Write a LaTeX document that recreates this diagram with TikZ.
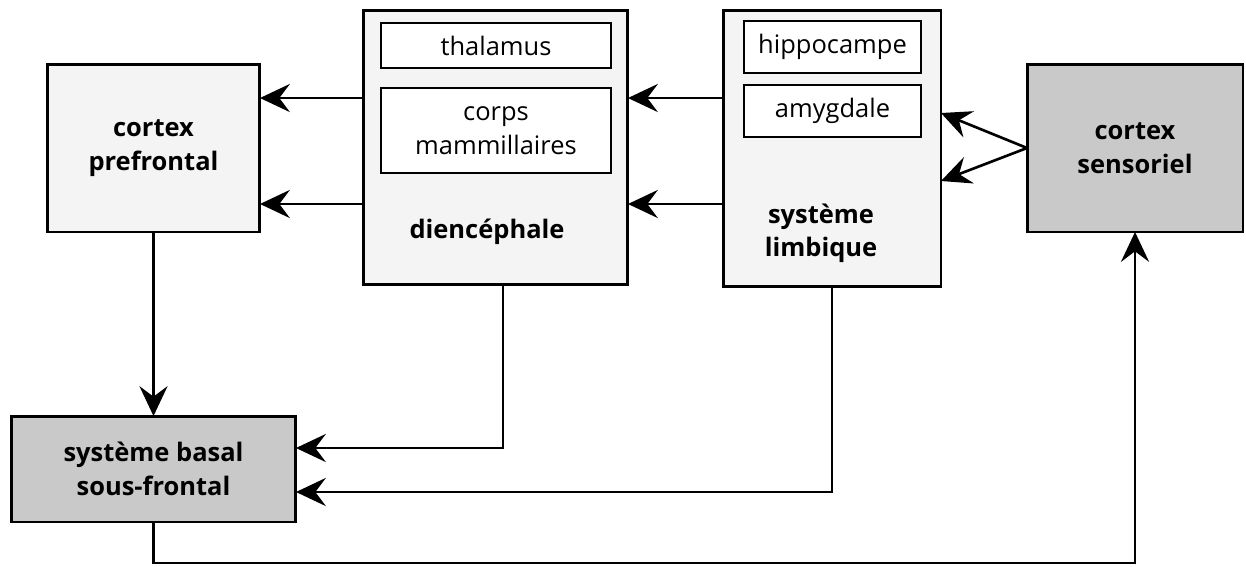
\documentclass[tikz,border=0pt]{standalone}
\usepackage{fontspec}
\setmainfont{Open Sans}
\usetikzlibrary{arrows.meta,positioning}

\begin{document}
\begin{tikzpicture}[
    x=0.02cm, y=-0.02cm,
    >={Stealth[length=17pt,width=16pt,inset=6pt]},
    font=\fontsize{14.5}{19}\selectfont,
    every node/.style={inner sep=0pt, outer sep=0pt},
    box/.style={draw, line width=1.7pt, align=center},
    lightbox/.style={box, fill=gray!9},
    darkbox/.style={box, fill=gray!42, font=\fontsize{14.5}{19}\selectfont\bfseries},
    innerbox/.style={box, fill=white, line width=1.5pt},
    arr/.style={->, line width=1.5pt}
]
\useasboundingbox (0,0) rectangle (1246,566);

% Left column
\node[lightbox, minimum width=4.26cm, minimum height=3.36cm,
      font=\fontsize{14.5}{19}\selectfont\bfseries] (pref) at (153.5,148) {cortex\\prefrontal};
\node[darkbox, minimum width=5.7cm, minimum height=2.12cm] (basal) at (153.5,469) {système basal\\sous-frontal};

% Diencephale
\node[lightbox, minimum width=5.3cm, minimum height=5.5cm] (dien) at (495.5,147.5) {};
\node[innerbox, minimum width=4.6cm, minimum height=0.9cm] (thal) at (496,45.5) {thalamus};
\node[innerbox, minimum width=4.6cm, minimum height=1.7cm] (corps) at (496,130.5) {corps\\mammillaires};
\node[font=\fontsize{14.5}{19}\selectfont\bfseries] (dienlab) at (487,232) {diencéphale};

% Systeme limbique
\node[lightbox, minimum width=4.36cm, minimum height=5.54cm] (limb) at (832,148.5) {};
\node[innerbox, minimum width=3.54cm, minimum height=1.04cm] (hippo) at (832.5,47) {hippocampe};
\node[innerbox, minimum width=3.54cm, minimum height=1.04cm] (amyg) at (832.5,111) {amygdale};
\node[align=center, font=\fontsize{14.5}{19}\selectfont\bfseries] (limblab) at (821,233) {système\\limbique};

% Cortex sensoriel
\node[darkbox, minimum width=4.32cm, minimum height=3.36cm] (sens) at (1135,148) {cortex\\sensoriel};

% Points
\coordinate (p1) at ([yshift=1cm]pref.east);
\coordinate (p2) at ([yshift=-1.12cm]pref.east);
\coordinate (l1) at ([yshift=0.71cm]limb.east);
\coordinate (l2) at ([yshift=-0.65cm]limb.east);
\coordinate (b1) at ([yshift=0.42cm]basal.east);
\coordinate (b2) at ([yshift=-0.46cm]basal.east);
\coordinate (low) at (0,563);

% Arrows
\draw[arr] (dien.west |- p1) -- (p1);
\draw[arr] (dien.west |- p2) -- (p2);
\draw[arr] (limb.west |- p1) -- (dien.east |- p1);
\draw[arr] (limb.west |- p2) -- (dien.east |- p2);
\draw[arr] (sens.west) -- (l1);
\draw[arr] (sens.west) -- (l2);
\draw[arr] (pref.south) -- (basal.north);
\draw[arr] ([xshift=0.15cm]dien.south) |- (b1);
\draw[arr] (limb.south) |- (b2);
\draw[arr] (basal.south) -- (basal.south |- low) -| (sens.south);

\end{tikzpicture}
\end{document}
